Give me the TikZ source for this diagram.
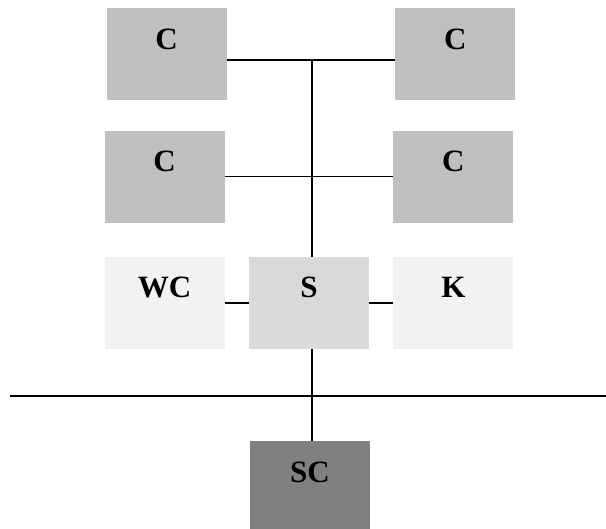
\documentclass[tikz,border=0pt]{standalone}
\usepackage{fontspec}
\setmainfont{Liberation Serif}
\usetikzlibrary{positioning}

\definecolor{cgray}{gray}{0.75}
\definecolor{sgray}{gray}{0.85}
\definecolor{wgray}{gray}{0.95}
\definecolor{scgray}{gray}{0.5}

\tikzset{
	box/.style={rectangle, minimum width=120pt, inner sep=0pt, text height=41pt, text depth=51pt, font=\fontsize{31}{31}\selectfont\bfseries},
	link/.style={line width=1.8pt},
	bus/.style={line width=2.2pt}
}

\begin{document}
\begin{tikzpicture}[x=1pt,y=1pt]
	\useasboundingbox (0,0) rectangle (606,-529);

	%Nodes
	\node [box, fill=sgray] (s) at (309,-303) {S};
	\node [box, fill=wgray, left=24pt of s] (wc) {WC};
	\node [box, fill=wgray, right=24pt of s] (k) {K};
	\node [box, fill=cgray, above=34pt of wc] (c3) {C};
	\node [box, fill=cgray, above=34pt of k] (c4) {C};
	\node [box, fill=cgray, above=30pt of c3, xshift=2pt] (c1) {C};
	\node [box, fill=cgray, above=30pt of c4, xshift=2pt] (c2) {C};
	\node [box, fill=scgray, below=92pt of s, xshift=1pt] (sc) {SC};

	\coordinate (top) at ([yshift=-6pt]c1.east);
	\coordinate (sn) at ([xshift=3pt]s.north);
	\coordinate (ss) at ([xshift=3pt]s.south);
	\coordinate (busl) at (10,-396);
	\coordinate (busr) at (606,-396);

	%Lines
	\draw [link] (top) -- (top -| c2.west);
	\draw [link] (c3.east) -- (c4.west);
	\draw [link] (sn) -- (sn |- top);
	\draw [link] (wc) -- (s);
	\draw [link] (s) -- (k);
	\draw [link] (ss) -- (ss |- sc.north);
	\draw [bus] (busl) -- (busr);

\end{tikzpicture}
\end{document}
